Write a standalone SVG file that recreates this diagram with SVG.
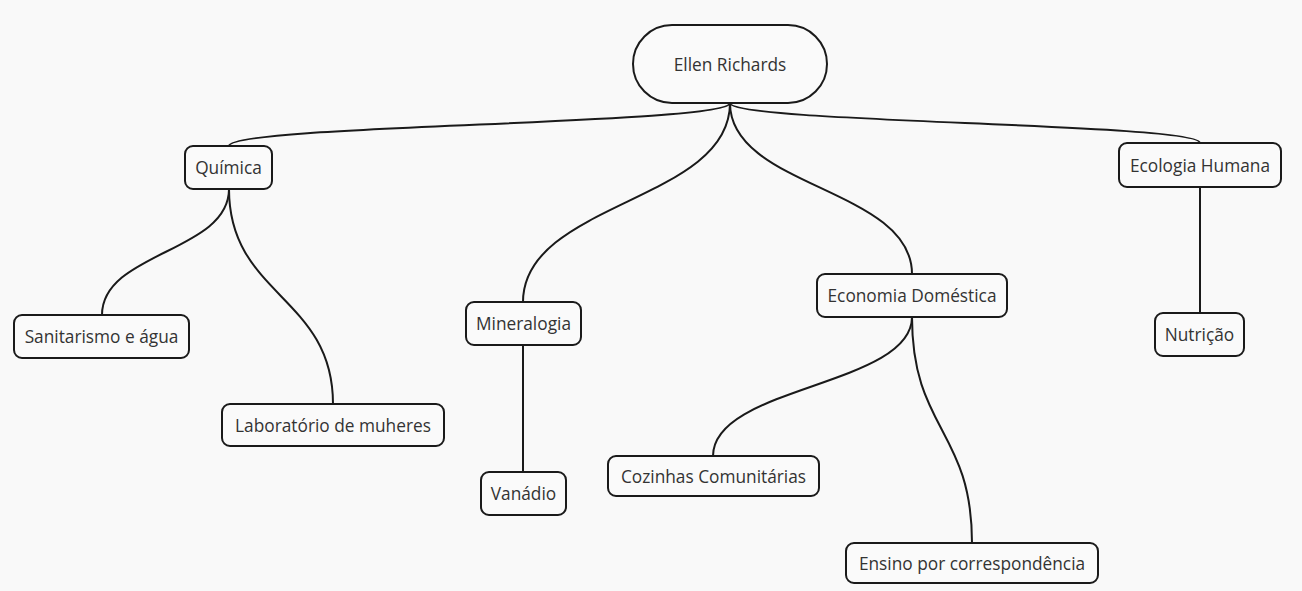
<svg xmlns="http://www.w3.org/2000/svg" width="1302" height="591" viewBox="0 0 1302 591">
<style>
.n rect{fill:#fafafa;stroke:#1a1a1a;stroke-width:2}
.n text{font-family:"Open Sans","Noto Sans",sans-serif;font-size:17.3px;fill:#333;text-anchor:middle;dominant-baseline:central}
.c path{fill:none;stroke:#1a1a1a;stroke-width:2}
</style>
<rect width="1302" height="591" fill="#f9f9f9"/>
<g class="c" id="connectors">
<path d="M730,103 C730,124.5 229,124.5 229,146"/>
<path d="M730,103 C730,202 523,202 523,302"/>
<path d="M730,103 C730,188 912,188 912,274"/>
<path d="M730,103 C730,123 1200,123 1200,143"/>
<path d="M229,189 C229,252 102,252 102,315"/>
<path d="M229,189 C229,296 333,296 333,404"/>
<path d="M523,345 L523,472"/>
<path d="M912,317 C912,386 713,386 713,456"/>
<path d="M912,317 C912,430 972,430 972,543"/>
<path d="M1200,187 L1200,313"/>
</g>
<g class="n" id="ellen"><rect x="633" y="25" width="194" height="78" rx="39"/><text x="730" y="64">Ellen Richards</text></g>
<g class="n" id="quimica"><rect x="185" y="146" width="87" height="43" rx="8"/><text x="228.5" y="167.5">Química</text></g>
<g class="n" id="mineralogia"><rect x="466" y="302" width="115" height="43" rx="8"/><text x="523.5" y="323.5">Mineralogia</text></g>
<g class="n" id="economia"><rect x="817" y="274" width="190" height="43" rx="8"/><text x="912" y="295.5">Economia Doméstica</text></g>
<g class="n" id="ecologia"><rect x="1119" y="143" width="162" height="44" rx="8"/><text x="1200" y="165">Ecologia Humana</text></g>
<g class="n" id="sanitarismo"><rect x="14" y="315" width="175" height="43" rx="8"/><text x="101.5" y="336.5">Sanitarismo e água</text></g>
<g class="n" id="laboratorio"><rect x="222" y="404" width="222" height="42" rx="8"/><text x="333" y="425">Laboratório de muheres</text></g>
<g class="n" id="vanadio"><rect x="481" y="472" width="85" height="43" rx="8"/><text x="523.5" y="493.5">Vanádio</text></g>
<g class="n" id="cozinhas"><rect x="608" y="456" width="211" height="40" rx="8"/><text x="713.5" y="476">Cozinhas Comunitárias</text></g>
<g class="n" id="ensino"><rect x="846" y="543" width="252" height="40" rx="8"/><text x="972" y="563">Ensino por correspondência</text></g>
<g class="n" id="nutricao"><rect x="1155" y="313" width="89" height="43" rx="8"/><text x="1199.5" y="334.5">Nutrição</text></g>
</svg>
